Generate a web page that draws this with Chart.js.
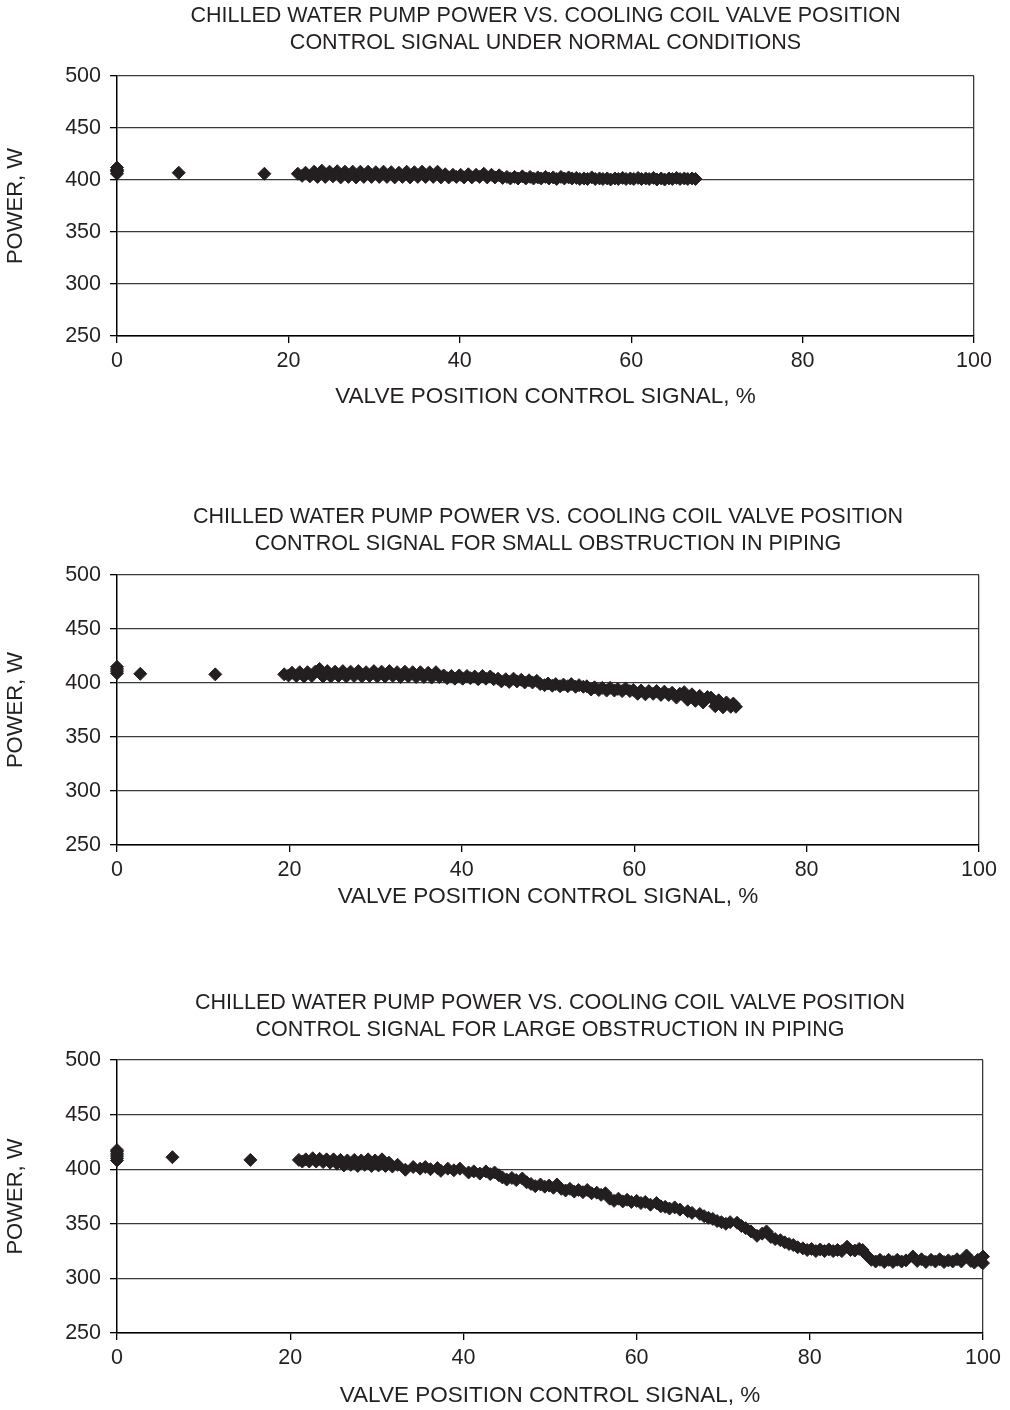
<!DOCTYPE html>
<html>
<head>
<meta charset="utf-8">
<title>Chilled water pump power vs. valve position</title>
<script src="https://cdn.jsdelivr.net/npm/chart.js@4.4.1/dist/chart.umd.min.js"></script>
<style>
  html, body { margin: 0; padding: 0; background: #fff; }
  body { width: 1010px; height: 1410px; position: relative; overflow: hidden; }
  canvas { position: absolute; left: 0; }
</style>
</head>
<body>
<canvas id="chartNormal" width="1010" height="420" style="top:0px"></canvas>
<canvas id="chartSmall" width="1010" height="420" style="top:500px"></canvas>
<canvas id="chartLarge" width="1010" height="425" style="top:985px"></canvas>
<script>
// ----------------------------------------------------------------------
// data: valve position signal (%) and pump power (W) for each test case
// ----------------------------------------------------------------------
const X_MIN = 0, X_MAX = 100, X_STEP = 20;
const Y_MIN = 250, Y_MAX = 500, Y_STEP = 50;

const X_TITLE = 'VALVE POSITION CONTROL SIGNAL, %';
const Y_TITLE = 'POWER, W';

const normalTitle = ['CHILLED WATER PUMP POWER VS. COOLING COIL VALVE POSITION',
                     'CONTROL SIGNAL UNDER NORMAL CONDITIONS'];
const smallTitle  = ['CHILLED WATER PUMP POWER VS. COOLING COIL VALVE POSITION',
                     'CONTROL SIGNAL FOR SMALL OBSTRUCTION IN PIPING'];
const largeTitle  = ['CHILLED WATER PUMP POWER VS. COOLING COIL VALVE POSITION',
                     'CONTROL SIGNAL FOR LARGE OBSTRUCTION IN PIPING'];

// normal conditions
const normalX = [
  0, 0, 0, 0, 0, 7.2, 17.2,
  21.1, 21.6, 22.0, 22.5, 23.0, 23.4, 23.9, 24.3, 24.8, 25.2,
  25.7, 26.1, 26.6, 27.0, 27.5, 27.9, 28.4, 28.8, 29.3, 29.7,
  30.2, 30.6, 31.1, 31.5, 32.0, 32.4, 32.9, 33.3, 33.8, 34.2,
  34.7, 35.1, 35.6, 36.0, 36.5, 36.9, 37.4, 37.8, 38.3, 38.7,
  39.2, 39.6, 40.1, 40.5, 41.0, 41.4, 41.9, 42.3, 42.8, 43.2,
  43.7, 44.1, 44.6, 45.0, 45.5, 45.9, 46.4, 46.8, 47.3, 47.7,
  48.2, 48.6, 49.1, 49.5, 50.0, 50.4, 50.9, 51.3, 51.8, 52.2,
  52.7, 53.1, 53.6, 54.0, 54.5, 54.9, 55.4, 55.8, 56.3, 56.7,
  57.2, 57.6, 58.1, 58.5, 59.0, 59.4, 59.9, 60.3, 60.8, 61.2,
  61.7, 62.1, 62.6, 63.0, 63.5, 63.9, 64.4, 64.8, 65.3, 65.7,
  66.2, 66.6, 67.1, 67.5
];
const normalY = [
  406, 408, 410, 412, 409, 407, 406,
  406, 404, 407, 403.5, 408, 403, 409, 403, 408, 403.5,
  408.5, 402.5, 408, 403, 408, 402.5, 408, 403, 408, 403,
  407.5, 403, 408, 403, 407.5, 402.5, 407, 403, 408, 402.5,
  407.5, 403, 408, 403, 407.5, 403, 408, 402.5, 405.5, 402.5,
  405, 403, 405, 402.5, 405.5, 402.5, 405, 403, 406, 402.5,
  405, 402.5, 404.5, 402, 403, 401.5, 403, 401.5, 403.5, 401.5,
  403, 401.5, 402.5, 401.5, 403, 401.5, 402.5, 401, 403, 401.5,
  402.5, 401.5, 402, 401, 401.5, 401, 402.5, 401, 401.5, 401,
  401.5, 400.5, 401.5, 401, 402, 401, 401.5, 401, 402, 401,
  401.5, 401, 402, 400.5, 401.5, 400.5, 401.5, 401, 402, 401,
  401.5, 401, 401.5, 401
];

// small obstruction in piping
const smallX = [
  0, 0, 0, 0, 2.7, 11.4,
  19.4, 19.9, 20.3, 20.8, 21.2, 21.7, 22.1, 22.6, 23.0, 23.5,
  23.9, 24.4, 24.8, 25.3, 25.7, 26.2, 26.6, 27.1, 27.5, 28.0,
  28.4, 28.9, 29.3, 29.8, 30.2, 30.7, 31.1, 31.6, 32.0, 32.5,
  32.9, 33.4, 33.8, 34.3, 34.7, 35.2, 35.6, 36.1, 36.5, 37.0,
  37.4, 37.9, 38.3, 38.8, 39.2, 39.7, 40.1, 40.6, 41.0, 41.5,
  41.9, 42.4, 42.8, 43.3, 43.7, 44.2, 44.6, 45.1, 45.5, 46.0,
  46.4, 46.9, 47.3, 47.8, 48.2, 48.7, 49.1, 49.6, 50.0, 50.5,
  50.9, 51.4, 51.8, 52.3, 52.7, 53.2, 53.6, 54.1, 54.5, 55.0,
  55.4, 55.9, 56.3, 56.8, 57.2, 57.7, 58.1, 58.6, 59.0, 59.5,
  59.9, 60.4, 60.8, 61.3, 61.7, 62.2, 62.6, 63.1, 63.5, 64.0,
  64.4, 64.9, 65.3, 65.8, 66.2, 66.7, 67.1, 67.6, 68.0, 68.5,
  68.9, 69.4, 69.8, 70.3, 70.7, 71.2, 71.5, 71.8
];
const smallY = [
  409, 411, 413, 415, 408.5, 408,
  408, 407, 409.5, 406.5, 410, 406, 410, 406.5, 410.5, 413,
  406, 411, 406, 410.5, 406.5, 411, 406, 410.5, 406.5, 411,
  406, 410, 406.5, 411, 406, 410.5, 406, 411, 406.5, 410,
  405.5, 410.5, 406, 410, 405.5, 410, 405.5, 409.5, 405, 410,
  405.5, 407, 404.5, 406.5, 404, 407, 404, 406.5, 404.5, 406,
  403.5, 406.5, 404, 406, 403.5, 404, 401.5, 403.5, 401, 404,
  401.5, 403, 400.5, 402.5, 400.5, 402, 399, 398, 399.5, 397.5,
  399, 397, 398.5, 397, 399, 396.5, 398, 396.5, 397, 394,
  396, 393.5, 395.5, 393, 395.5, 393, 394.5, 392.5, 395, 392.5,
  393.5, 390, 393, 389.5, 392.5, 390, 392.5, 389, 392, 389,
  391, 386.5, 390, 391.5, 384.5, 389.5, 383.5, 388, 382, 387,
  386.5, 378.5, 384, 377.5, 382, 378, 381, 378
];

// large obstruction in piping
const largeX = [
  0, 0, 0, 0, 0, 0, 6.4, 15.4,
  21.0, 21.4, 21.8, 22.2, 22.6, 23.0, 23.4, 23.8, 24.2, 24.6,
  25.0, 25.4, 25.8, 26.2, 26.6, 27.0, 27.4, 27.8, 28.2, 28.6,
  29.0, 29.4, 29.8, 30.2, 30.6, 31.0, 31.4, 31.8, 32.4, 33.3,
  34.2, 35.0, 35.6, 36.2, 37.0, 37.4, 38.2, 38.9, 39.6, 40.6,
  41.2, 41.9, 42.6, 43.1, 43.6, 44.1, 44.5, 45.0, 45.6, 46.1,
  46.8, 47.3, 47.8, 48.3, 48.9, 49.4, 49.9, 50.4, 50.8, 51.3,
  51.8, 52.3, 52.8, 53.3, 53.8, 54.3, 54.8, 55.4, 55.9, 56.4,
  56.9, 57.4, 57.9, 58.4, 58.9, 59.4, 60.0, 60.5, 61.0, 61.6,
  62.3, 62.8, 63.3, 63.8, 64.4, 65.0, 65.9, 66.4, 67.3, 67.8,
  68.3, 68.8, 69.3, 69.8, 70.3, 70.8, 71.6, 72.1, 72.6, 73.2,
  73.9, 74.5, 75.0, 75.5, 76.0, 76.6, 77.1, 77.6, 78.1, 78.6,
  79.2, 79.7, 80.2, 80.7, 81.2, 81.7, 82.2, 82.7, 83.2, 83.7,
  84.3, 84.7, 85.2, 85.7, 86.1, 86.6, 87.1, 87.6, 88.1, 88.6,
  89.1, 89.6, 90.1, 90.6, 91.1, 91.9, 92.4, 92.9, 93.4, 94.0,
  94.5, 95.0, 95.5, 96.0, 96.5, 97.0, 97.5, 98.1, 98.6, 99.0,
  99.4, 99.8, 100, 100
];
const largeY = [
  408, 410, 412, 414, 416, 417.5, 411, 408.5,
  408.5, 407, 409, 407, 410, 407, 409.5, 406.5, 409, 406,
  409, 405, 408.5, 403.5, 408, 404, 408.5, 403, 408, 404,
  409, 403, 408, 403.5, 409, 403, 406, 402.5, 404, 399.5,
  402, 400.5, 402, 400, 401, 398.5, 400.5, 399, 400.5, 397,
  398, 396, 398, 395.5, 397, 394.5, 392.5, 390.5, 392, 390,
  391.5, 388, 386.5, 384.5, 386, 384, 385, 383, 386, 382,
  380.5, 382, 379.5, 381, 379, 381, 378, 378.5, 376.5, 378,
  373, 371, 373, 370.5, 372, 370, 371, 369, 370, 367.5,
  369, 366, 365.5, 364, 365, 363, 361.5, 360, 359, 357,
  355.5, 354.5, 352.5, 351.5, 350, 351.5, 351, 348, 346, 343,
  339, 341, 343, 338, 336, 335, 333, 331.5, 330.5, 328.5,
  327.5, 326, 327, 325, 326.5, 325, 326.5, 325, 326, 325,
  329, 326, 325.5, 327, 326, 321, 317, 315.5, 317, 315,
  317, 315, 317, 315.5, 316.5, 320, 316, 317.5, 315, 317,
  315.5, 317.5, 315, 316.5, 315.5, 317.5, 315.5, 321, 316, 314.5,
  317, 315, 320, 314
];

// ----------------------------------------------------------------------
// styling
// ----------------------------------------------------------------------
const INK = '#231f20';
const GRID = '#3a3a3a';
const FONT = '"Liberation Sans", Arial, Helvetica, sans-serif';
const TITLE_FONT  = { family: FONT, size: 21.5, weight: 'normal', lineHeight: '27px' };
const XTITLE_FONT = { family: FONT, size: 22.5, weight: 'normal', lineHeight: '27px' };
const YTITLE_FONT = { family: FONT, size: 22, weight: 'normal', lineHeight: '27px' };
const TICK_FONT   = { family: FONT, size: 21.5, weight: 'normal', lineHeight: '25px' };

// plot box of each panel, in canvas pixels
const PANELS = {
  chartNormal: { right: 974, xHeight: 84, titleTop: 2.5, titleBottom: 19.5, xTitlePad: 9.5 },
  chartSmall:  { right: 979, xHeight: 75, titleTop: 3.5, titleBottom: 17.5, xTitlePad: 9.5 },
  chartLarge:  { right: 983, xHeight: 77, titleTop: 4.5, titleBottom: 16.5, xTitlePad: 0.5 }
};

function buildChart(id, titleLines, xs, ys) {
  const box = PANELS[id];
  const points = xs.map((x, i) => ({ x: x, y: ys[i] }));

  return new Chart(document.getElementById(id), {
    type: 'scatter',
    data: {
      datasets: [{
        data: points,
        pointStyle: 'rectRot',
        pointRadius: 6.5,
        pointHoverRadius: 6.5,
        backgroundColor: INK,
        borderColor: INK,
        borderWidth: 1,
        clip: false
      }]
    },
    options: {
      responsive: false,
      animation: false,
      devicePixelRatio: 1,
      events: [],
      layout: { padding: { left: 0, top: 0, bottom: 0, right: 1010 - box.right } },
      plugins: {
        legend: { display: false },
        tooltip: { enabled: false },
        title: {
          display: true,
          text: titleLines,
          color: INK,
          font: TITLE_FONT,
          fullSize: false,
          padding: { top: box.titleTop, bottom: box.titleBottom }
        }
      },
      scales: {
        x: {
          type: 'linear',
          min: X_MIN, max: X_MAX,
          afterFit: s => { s.height = box.xHeight; },
          ticks: { stepSize: X_STEP, color: INK, font: TICK_FONT, padding: 6, maxRotation: 0 },
          grid: {
            // only the right-hand frame line is drawn inside the plot
            color: c => (c.tick && c.tick.value === X_MAX) ? GRID : 'rgba(0,0,0,0)',
            tickColor: '#000',
            tickLength: 7,
            lineWidth: 1.3
          },
          border: { color: '#000', width: 1.5 },
          title: { display: true, text: X_TITLE, color: INK, font: XTITLE_FONT, padding: { top: 0, bottom: box.xTitlePad } }
        },
        y: {
          type: 'linear',
          min: Y_MIN, max: Y_MAX,
          afterFit: s => { s.width = 117; },
          ticks: { stepSize: Y_STEP, color: INK, font: TICK_FONT, padding: 9 },
          grid: { color: GRID, tickColor: '#000', tickLength: 7, lineWidth: 1.3 },
          border: { color: '#000', width: 1.5 },
          title: { display: true, text: Y_TITLE, color: INK, font: YTITLE_FONT, padding: { top: 2.5, bottom: 0 } }
        }
      }
    }
  });
}

buildChart('chartNormal', normalTitle, normalX, normalY);
buildChart('chartSmall', smallTitle, smallX, smallY);
buildChart('chartLarge', largeTitle, largeX, largeY);
</script>
</body>
</html>
